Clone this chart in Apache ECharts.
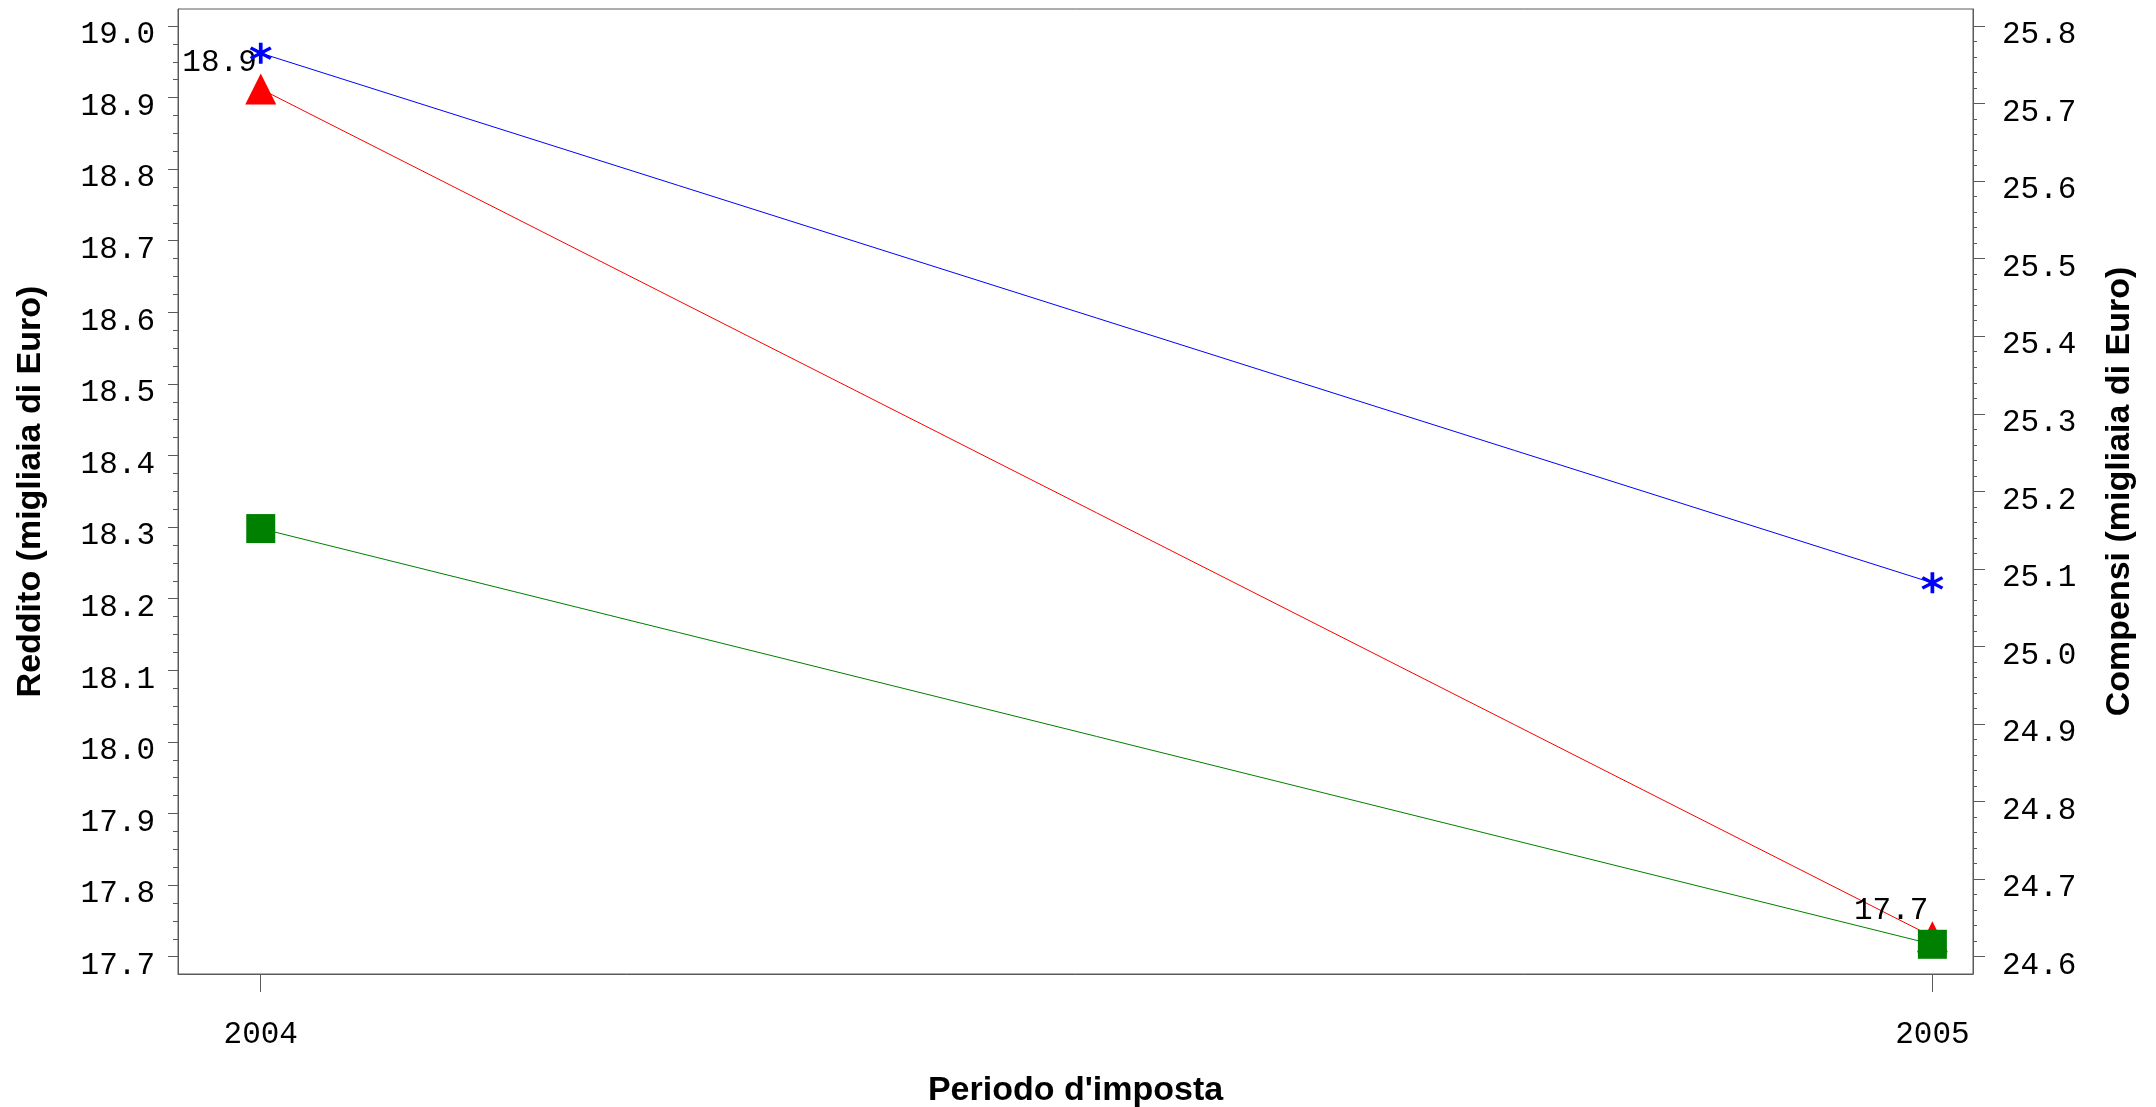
<!DOCTYPE html>
<html><head><meta charset="utf-8">
<script src="https://cdn.jsdelivr.net/npm/echarts@6/dist/echarts.min.js"></script>
<style>html,body{margin:0;padding:0;background:#fff}#c{width:2156px;height:1107px}</style>
</head><body><div id="c"></div>
<script>
// ---- data ----
const years = [2004, 2005];
const redditoRed = [18.912, 17.728];      // left axis (Reddito)
const compensiBlue = [25.765, 25.082];    // right axis (Compensi)
const compensiGreen = [25.152, 24.616];   // right axis (Compensi)
const leftTicks = [17.7, 17.8, 17.9, 18.0, 18.1, 18.2, 18.3, 18.4, 18.5, 18.6, 18.7, 18.8, 18.9, 19.0];
const rightTicks = [24.6, 24.7, 24.8, 24.9, 25.0, 25.1, 25.2, 25.3, 25.4, 25.5, 25.6, 25.7, 25.8];
const xTitle = "Periodo d'imposta";
const leftTitle = "Reddito (migliaia di Euro)";
const rightTitle = "Compensi (migliaia di Euro)";

// minor tick positions
const leftMinor = [];
for (let i = 0; i < leftTicks.length - 1; i++) for (let k = 1; k < 4; k++) leftMinor.push(+(leftTicks[i] + k * 0.025).toFixed(4));
const rightMinor = [];
for (let i = 0; i < rightTicks.length - 1; i++) for (let k = 1; k < 5; k++) rightMinor.push(+(rightTicks[i] + k * 0.02).toFixed(4));

const axisColor = '#5a5a5a';
const mono = 'Liberation Mono';
const sans = 'Liberation Sans';
const tickFont = {fontFamily: mono, fontSize: 31, color: '#000'};
const titleFont = {fontFamily: sans, fontSize: 34, fontWeight: 'bold', color: '#000'};

const asterisk = 'path://M58 0 L58 100 L42 100 L42 0 Z M10.7 81.9 L2.7 68.1 L89.3 18.1 L97.3 31.9 Z M97.3 68.1 L89.3 81.9 L2.7 31.9 L10.7 18.1 Z';

const LMIN = 17.6758, LMAX = 19.0237, RMIN = 24.5777, RMAX = 25.8219;

const chart = echarts.init(document.getElementById('c'), null, {renderer: 'canvas'});
chart.setOption({
  animation: false,
  backgroundColor: '#fff',
  grid: {left: 178, right: 183, top: 9, bottom: 133, show: true, borderColor: axisColor, borderWidth: 1,
         backgroundColor: 'transparent', outerBoundsMode: 'none', containLabel: false},
  xAxis: {
    type: 'value', min: 2003.9505, max: 2005.0243,
    axisLine: {onZero: false, lineStyle: {color: axisColor, width: 1}},
    axisTick: {customValues: years, length: 18, inside: false, lineStyle: {color: axisColor}},
    axisLabel: Object.assign({customValues: years, margin: 45, formatter: v => String(Math.round(v))}, tickFont),
    splitLine: {show: false},
    name: xTitle, nameLocation: 'middle', nameGap: 100, nameTextStyle: titleFont
  },
  yAxis: [
    {
      type: 'value', position: 'left', min: LMIN, max: LMAX,
      axisLine: {show: true, onZero: false, lineStyle: {color: axisColor, width: 1}},
      axisTick: {customValues: leftTicks, length: 10, lineStyle: {color: axisColor}},
      axisLabel: Object.assign({customValues: leftTicks, margin: 23, verticalAlign: 'top', lineHeight: 18, formatter: v => v.toFixed(1)}, tickFont),
      splitLine: {show: false},
      name: leftTitle, nameLocation: 'middle', nameRotate: 90, nameGap: 130, nameTextStyle: titleFont
    },
    {
      type: 'value', position: 'right', min: RMIN, max: RMAX,
      axisLine: {show: true, onZero: false, lineStyle: {color: axisColor, width: 1}},
      axisTick: {customValues: rightTicks, length: 12, lineStyle: {color: axisColor}},
      axisLabel: Object.assign({customValues: rightTicks, margin: 29, verticalAlign: 'top', lineHeight: 18, formatter: v => v.toFixed(1)}, tickFont),
      splitLine: {show: false},
      name: rightTitle, nameLocation: 'middle', nameRotate: 90, nameGap: 130, nameTextStyle: titleFont
    },
    {
      type: 'value', position: 'left', min: LMIN, max: LMAX,
      axisLine: {show: false}, axisLabel: {show: false}, splitLine: {show: false},
      axisTick: {customValues: leftMinor, length: 5, lineStyle: {color: axisColor}}
    },
    {
      type: 'value', position: 'right', min: RMIN, max: RMAX,
      axisLine: {show: false}, axisLabel: {show: false}, splitLine: {show: false},
      axisTick: {customValues: rightMinor, length: 4, lineStyle: {color: axisColor}}
    }
  ],
  series: [
    {
      name: 'Reddito', type: 'line', yAxisIndex: 0, z: 2,
      data: years.map((y, i) => [y, redditoRed[i]]),
      symbol: 'triangle', symbolSize: [31, 31],
      itemStyle: {color: '#ff0000'}, lineStyle: {color: '#ff0000', width: 1},
      label: Object.assign({show: true, position: 'inside', align: 'right', verticalAlign: 'middle', offset: [-4, -26],
        formatter: p => p.value[1].toFixed(1)}, tickFont),
      emphasis: {disabled: true}
    },
    {
      name: 'Compensi2', type: 'line', yAxisIndex: 1, z: 3,
      data: years.map((y, i) => [y, compensiGreen[i]]),
      symbol: 'rect', symbolSize: 29,
      itemStyle: {color: '#008000'}, lineStyle: {color: '#008000', width: 1},
      emphasis: {disabled: true}
    },
    {
      name: 'Compensi', type: 'line', yAxisIndex: 1, z: 4,
      data: years.map((y, i) => [y, compensiBlue[i]]),
      symbol: asterisk, symbolSize: [22, 21],
      itemStyle: {color: '#0000ff'}, lineStyle: {color: '#0000ff', width: 1},
      emphasis: {disabled: true}
    }
  ]
});
</script>
</body></html>
